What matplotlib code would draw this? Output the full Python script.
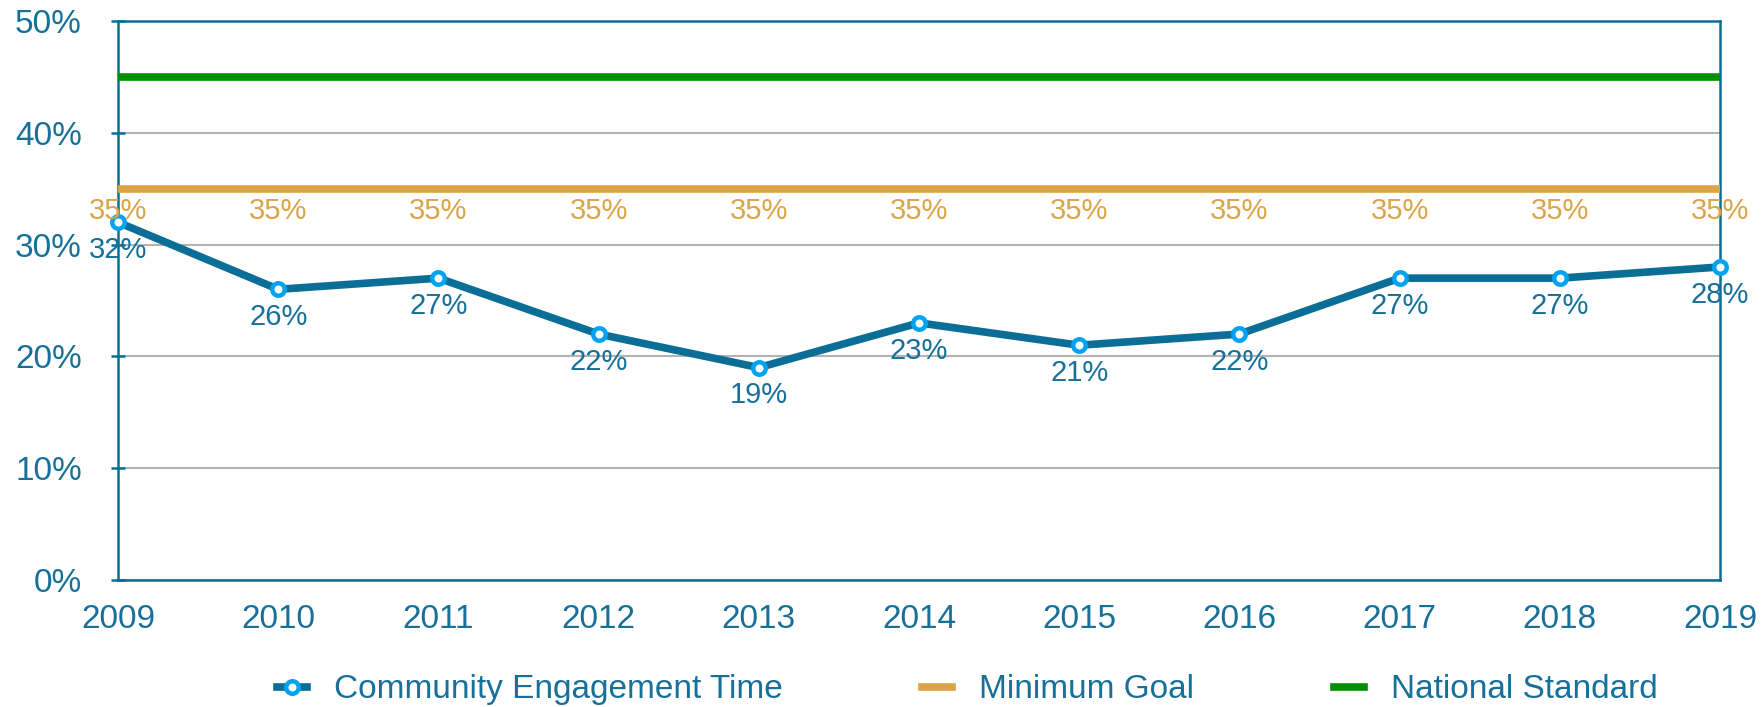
import matplotlib.pyplot as plt
from matplotlib.ticker import FuncFormatter

plt.rcParams['font.family'] = ['Liberation Sans', 'DejaVu Sans']

years = [2009, 2010, 2011, 2012, 2013, 2014, 2015, 2016, 2017, 2018, 2019]
engagement = [32, 26, 27, 22, 19, 23, 21, 22, 27, 27, 28]
minimumGoal = [35] * len(years)
nationalStandard = [45] * len(years)

teal = '#0b6e96'
textColor = '#16709a'
orange = '#dba447'
green = '#009000'

fig = plt.figure(figsize=(17.65, 7.07), dpi=100)
ax = fig.add_axes([0.0669, 0.1796, 0.9076, 0.7907])

ax.plot(years, nationalStandard, color=green, linewidth=5.5, label='National Standard', zorder=3)
ax.plot(years, minimumGoal, color=orange, linewidth=5.5, label='Minimum Goal', zorder=3)
ax.plot(years, engagement, color=teal, linewidth=5.5, marker='o', markersize=9,
        markerfacecolor='white', markeredgecolor='#00a2f2', markeredgewidth=3.2,
        label='Community Engagement Time', zorder=4, clip_on=False)

for x, v in zip(years, engagement):
    ax.annotate(str(v) + '%', (x, v), xytext=(0, -20), textcoords='offset points',
                ha='center', va='center', fontsize=21, color=textColor, zorder=5,
                annotation_clip=False)
for x, v in zip(years, minimumGoal):
    ax.annotate(str(v) + '%', (x, v), xytext=(0, -16), textcoords='offset points',
                ha='center', va='center', fontsize=21, color=orange, zorder=5,
                annotation_clip=False)

ax.set_xlim(2009, 2019)
ax.set_ylim(0, 50)
ax.set_xticks(years)
ax.set_yticks(range(0, 51, 10))
ax.yaxis.set_major_formatter(FuncFormatter(lambda v, p: '%d%%' % v))
ax.grid(axis='y', color='#b3b3b3', linewidth=1.5, zorder=1)
ax.set_axisbelow(True)
for s in ax.spines.values():
    s.set_color(teal)
    s.set_linewidth(1.8)
ax.tick_params(axis='y', colors=teal, labelcolor=textColor, labelsize=24, length=10,
               width=1.8, direction='inout', pad=21)
ax.tick_params(axis='x', length=0, labelcolor=textColor, labelsize=24, pad=17)

handles, labels = ax.get_legend_handles_labels()
order = [2, 1, 0]
leg = fig.legend([handles[i] for i in order], [labels[i] for i in order],
                 loc='lower center', bbox_to_anchor=(0.548, -0.04), ncol=3, frameon=False,
                 fontsize=24, handlelength=0.9, columnspacing=4.2, handletextpad=0.8)
for t in leg.get_texts():
    t.set_color(textColor)

plt.savefig('out.png', dpi=100)
